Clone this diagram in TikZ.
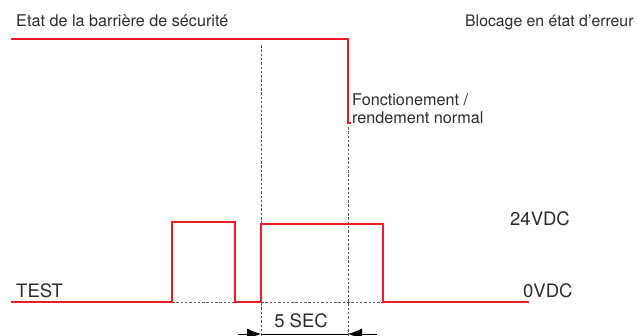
\documentclass[tikz,border=0pt]{standalone}
\usepackage{fontspec}
\setmainfont{TeX Gyre Heros}
\usetikzlibrary{arrows.meta}
\definecolor{sigred}{HTML}{EE1C25}
\definecolor{txtgray}{HTML}{2B2B2B}
\definecolor{dashgray}{HTML}{555555}
\begin{document}
\begin{tikzpicture}[x=1pt,y=-1pt,
  signal/.style={draw=sigred,line width=2.3pt,line join=miter},
  guide/.style={draw=dashgray,line width=0.7pt,dash pattern=on 2.5pt off 1.8pt},
  toplabel/.style={anchor=base west,inner sep=0pt,text=txtgray,font=\fontsize{16.2}{18}\selectfont},
  botlabel/.style={anchor=base west,inner sep=0pt,text=txtgray,font=\fontsize{18.5}{21}\selectfont},
  dimarrow/.style={draw=black,line width=0.8pt,-{Latex[length=14pt,width=11pt]}}]
\useasboundingbox (0,0) rectangle (637,335);
% coordinates
\coordinate (tl) at (11,39);
\coordinate (tr) at (348,39);
\coordinate (tb) at (348,123);
\coordinate (ts) at (351,123);
\coordinate (d1top) at (261,45);
\coordinate (d1bot) at (261,340);
\coordinate (d2top) at (348,127);
\coordinate (d2bot) at (348,340);
\coordinate (al) at (238,334);
\coordinate (ar) at (377,334);
\coordinate (atl) at (261,334);
\coordinate (atr) at (348,334);
% guides
\draw[guide] (d1top) -- (d1bot);
\draw[guide] (d2top) -- (d2bot);
\draw[guide] (172,302) -- (235,302);
\draw[guide] (261,302) -- (383,302);
% top signal
\draw[signal] (tl) -- (tr) -- (tb) -- (ts);
% bottom signal
\draw[signal] (11,302) -- (172,302) -- (172,222) -- (235,222) -- (235,302)
  -- (261,302) -- (261,224) -- (383,224) -- (383,302) -- (529,302);
% dimension arrows
\draw[dimarrow] (al) -- (atl);
\draw[dimarrow] (ar) -- (atr);
\draw[draw=black,line width=0.8pt] (atl) -- (atr);
% labels
\node[toplabel] (etat) at (16,26) {Etat de la barrière de sécurité};
\node[toplabel,font=\fontsize{15.8}{18}\selectfont] (bloc) at (465,26) {Blocage en état d’erreur};
\node[toplabel] (fonc) at (352,105) {Fonctionement /};
\node[toplabel] (rend) at (352,123) {rendement normal};
\node[botlabel] (v24) at (510,225) {24VDC};
\node[botlabel] (v0) at (523,297) {0VDC};
\node[botlabel] (test) at (16,297) {TEST};
\node[botlabel,anchor=base] (sec) at (301,327) {5 SEC};
\end{tikzpicture}
\end{document}
